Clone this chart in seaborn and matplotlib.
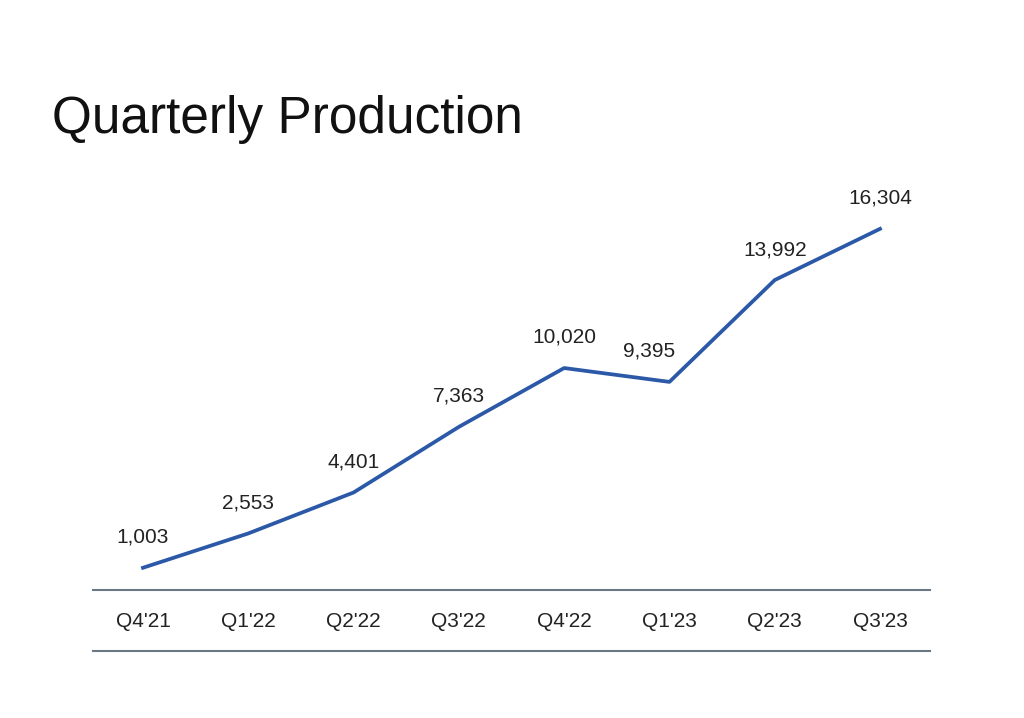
import matplotlib
matplotlib.use("Agg")
import matplotlib.pyplot as plt
import seaborn as sns
import pandas as pd

quarters = ["Q4'21", "Q1'22", "Q2'22", "Q3'22", "Q4'22", "Q1'23", "Q2'23", "Q3'23"]
production = [1003, 2553, 4401, 7363, 10020, 9395, 13992, 16304]
label_dx = [0, 0, 0, 0, 0, -20, 0, 0]  # pixel nudges for labels

df = pd.DataFrame({"q": range(len(quarters)), "v": production})

fig = plt.figure(figsize=(10.24, 7.18), dpi=100)
fig.patch.set_facecolor("white")
ax = fig.add_axes([0.0908, 0.1783, 0.8174, 0.5707])
ax.set_facecolor("white")
sns.lineplot(data=df, x="q", y="v", ax=ax, color="#2b59a8", linewidth=2.7)
ax.set_xlim(-0.475, 7.475)
ax.set_ylim(0, 18500)
for s in ["top", "right", "left"]:
    ax.spines[s].set_visible(False)
ax.spines["bottom"].set_color("#6b7785")
ax.spines["bottom"].set_linewidth(1.5)
ax.set_yticks([])
ax.set_xticks(range(len(quarters)))
ax.set_xticklabels(quarters, fontsize=15, family="Liberation Sans", color="#222222")
ax.tick_params(axis="x", length=0, pad=16)
ax.set_xlabel(""); ax.set_ylabel("")
for i, (v, dx) in enumerate(zip(production, label_dx)):
    ax.annotate(f"{v:,}", (i, v), xytext=(dx * 0.72, 22), textcoords="offset points",
                ha="center", va="center", fontsize=15, family="Liberation Sans", color="#222222")
fig.add_artist(plt.Line2D([93/1024, 930/1024], [1-651/718, 1-651/718], color="#6b7785", lw=1.5))
fig.text(52/1024, 1-120/718, "Quarterly Production", fontsize=37, family="Liberation Sans",
         va="center", ha="left", color="#111111")
fig.savefig("out.png", dpi=100)
